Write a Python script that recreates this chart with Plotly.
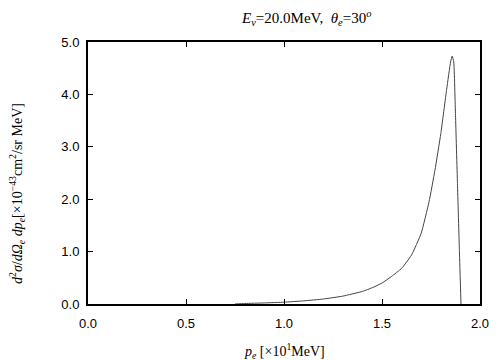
import plotly.graph_objects as go

p_e = [0.75, 0.8, 0.9, 1.0, 1.1, 1.2, 1.3, 1.4, 1.45, 1.5, 1.55, 1.6, 1.65, 1.7,
       1.74, 1.77, 1.8, 1.83, 1.85, 1.858, 1.866, 1.875, 1.885, 1.895, 1.903]
xsec = [0.0, 0.01, 0.02, 0.035, 0.06, 0.095, 0.15, 0.24, 0.31, 0.40, 0.53, 0.68, 0.93, 1.35,
        1.95, 2.55, 3.25, 4.1, 4.62, 4.73, 4.62, 3.6, 2.3, 1.0, 0.0]

x_ticks = [0.0, 0.5, 1.0, 1.5, 2.0]
y_ticks = [0.0, 1.0, 2.0, 3.0, 4.0, 5.0]

fig = go.Figure()
fig.add_trace(go.Scatter(x=p_e, y=xsec, mode="lines",
                         line=dict(color="#444444", width=1, shape="spline", smoothing=0.4),
                         showlegend=False, hoverinfo="skip"))

axis_common = dict(showline=True, linecolor="black", linewidth=2, mirror="ticks",
                   ticks="inside", ticklen=5, tickwidth=1, tickcolor="black",
                   showgrid=False, zeroline=False,
                   tickfont=dict(family="Liberation Sans", size=13, color="black"))

fig.update_xaxes(range=[0, 2], tickvals=x_ticks, ticklabelstandoff=6,
                 ticktext=[f"{v:.1f}" for v in x_ticks], **axis_common)
fig.update_yaxes(range=[0, 5], tickvals=y_ticks, ticklabelstandoff=4,
                 ticktext=[f"{v:.1f}" for v in y_ticks], **axis_common)

serif = dict(family="Liberation Serif", size=14, color="black")

fig.update_layout(
    width=504, height=360,
    # page body adds an 8px offset, margins compensate
    margin=dict(l=80, r=32, t=34, b=64),
    paper_bgcolor="white", plot_bgcolor="white",
    annotations=[
        dict(text="<i>E</i><sub><i>ν</i></sub>=20.0MeV,  <i>θ</i><sub><i>e</i></sub>=30<sup><i>o</i></sup>",
             xref="paper", yref="paper", x=0.555, y=1.0, yshift=24,
             xanchor="center", yanchor="middle", showarrow=False,
             font=dict(family="Liberation Serif", size=15, color="black")),
        dict(text="<i>p</i><sub><i>e</i></sub> [×10<sup>1</sup>MeV]",
             xref="paper", yref="paper", x=0.5, y=0, yshift=-47,
             xanchor="center", yanchor="middle", showarrow=False, font=serif),
        dict(text="<i>d</i><sup>2</sup><i>σ</i>/<i>d</i><i>Ω</i><sub><i>e</i></sub> <i>dp</i><sub><i>e</i></sub>[×10<sup>−43</sup>cm<sup>2</sup>/sr MeV]",
             xref="paper", yref="paper", x=0, xshift=-71, y=0.42,
             textangle=-90, xanchor="center", yanchor="middle", showarrow=False, font=serif),
    ],
)

fig.write_html("out.html")
